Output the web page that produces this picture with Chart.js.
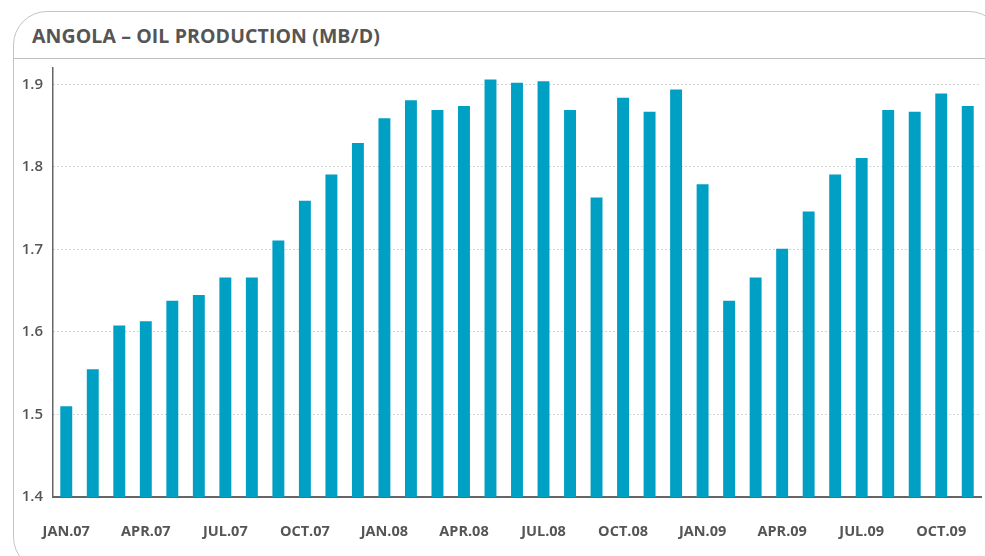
<!DOCTYPE html>
<html>
<head>
<meta charset="utf-8">
<script src="https://cdn.jsdelivr.net/npm/chart.js@4.4.1/dist/chart.umd.min.js"></script>
<style>
  html, body { margin: 0; padding: 0; background: #fff; overflow: hidden; }
  body { width: 985px; height: 556px; position: relative; font-family: 'Open Sans', sans-serif; }
  .frame {
    position: absolute; left: 13px; top: 11px; width: 990px; height: 560px;
    border: 1px solid #c4c4c4; border-radius: 34px; box-sizing: border-box;
  }
  .sep { position: absolute; left: 13px; top: 58px; width: 980px; height: 0; border-top: 1.5px solid #bdbdbd; }
  .title {
    position: absolute; left: 32px; top: 22px; font-size: 19.5px; font-weight: 700;
    color: #555; letter-spacing: 0.1px; white-space: nowrap;
  }
  canvas { position: absolute; left: 0; top: 0; }
</style>
</head>
<body>
<div class="frame"></div>
<div class="sep"></div>
<div class="title">ANGOLA – OIL PRODUCTION (MB/D)</div>
<canvas id="chart" width="985" height="556"></canvas>
<script>
  const MONTHS = ['JAN', 'FEB', 'MAR', 'APR', 'MAY', 'JUN', 'JUL', 'AUG', 'SEP', 'OCT', 'NOV', 'DEC'];
  const YEARS = ['07', '08', '09'];

  // monthly output, Jan 2007 - Nov 2009
  const production2007 = [1.510, 1.555, 1.608, 1.613, 1.638, 1.645, 1.666, 1.666, 1.711, 1.759, 1.791, 1.829];
  const production2008 = [1.859, 1.881, 1.869, 1.874, 1.906, 1.902, 1.904, 1.869, 1.763, 1.884, 1.867, 1.894];
  const production2009 = [1.779, 1.638, 1.666, 1.701, 1.746, 1.791, 1.811, 1.869, 1.867, 1.889, 1.874];

  const yTicks = [1.4, 1.5, 1.6, 1.7, 1.8, 1.9];
  const labelMonths = ['JAN', 'APR', 'JUL', 'OCT'];

  const values = production2007.concat(production2008, production2009);
  const labels = values.map(function (v, i) {
    return MONTHS[i % 12] + '.' + YEARS[Math.floor(i / 12)];
  });

  const TEXT = '#555555';
  const BAR = '#00a0c4';

  new Chart(document.getElementById('chart'), {
    type: 'bar',
    data: {
      labels: labels,
      datasets: [{
        data: values,
        backgroundColor: BAR,
        borderWidth: 0,
        barPercentage: 0.9,
        categoryPercentage: 0.5
      }]
    },
    options: {
      responsive: false,
      animation: false,
      layout: { padding: { top: 68, right: 4, left: 0, bottom: 0 } },
      plugins: { legend: { display: false }, tooltip: { enabled: false } },
      scales: {
        x: {
          grid: { display: false },
          border: { display: true, color: '#666', width: 2 },
          ticks: {
            autoSkip: false,
            maxRotation: 0,
            padding: 18,
            color: TEXT,
            font: { family: "'Open Sans', sans-serif", size: 14.5, weight: '700' },
            callback: function (v, i) {
              const lab = labels[i];
              return labelMonths.indexOf(lab.split('.')[0]) >= 0 ? lab : '';
            }
          },
          afterFit: function (scale) {
            scale.height = 59;
            scale.paddingRight = 0;
          }
        },
        y: {
          min: 1.4,
          max: 1.92,
          afterBuildTicks: function (scale) {
            scale.ticks = yTicks.map(function (v) { return { value: v }; });
          },
          afterFit: function (scale) { scale.width = 53; },
          grid: {
            drawTicks: false,
            color: function (ctx) { return ctx.tick && ctx.tick.value === 1.4 ? 'rgba(0,0,0,0)' : '#a8a8a8'; },
            lineWidth: 1
          },
          border: { display: true, color: '#666', width: 1.5, dash: [1, 3] },
          ticks: {
            padding: 10,
            color: TEXT,
            font: { family: "'Open Sans', sans-serif", size: 15, weight: '600' },
            callback: function (v) { return v.toFixed(1); }
          }
        }
      }
    }
  });
</script>
</body>
</html>
